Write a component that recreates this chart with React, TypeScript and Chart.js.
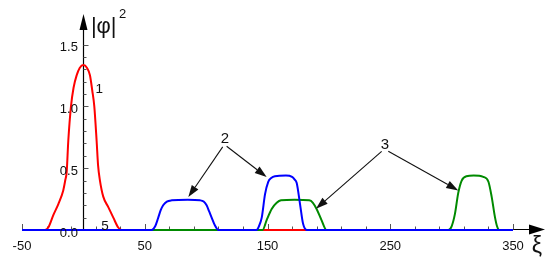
import { useEffect, useRef } from 'react';
import { Chart, registerables } from 'chart.js';

Chart.register(...registerables);

// ---- data ----
const redXi = [-50, -31.4, -28.6, -24.5, -20.4, -16.4, -14.8, -13.6, -12.3, -10.1, -8, -5.5, -3, 0, 3, 5.4, 7.2, 8.9, 10.8, 12, 13.5, 16.2, 20.3, 24.4, 28.4, 31.2, 350];
const redVal = [0, 0, 0.02, 0.12, 0.21, 0.32, 0.4, 0.47, 0.72, 1.0, 1.15, 1.25, 1.31, 1.334, 1.31, 1.25, 1.13, 1.0, 0.72, 0.52, 0.4, 0.27, 0.185, 0.1, 0.02, 0, 0];

const blueXi = [-50, 55.6, 58.5, 61, 63, 65, 68, 72, 85, 95, 98, 100.4, 102.5, 104.5, 107, 110, 141, 143, 145.3, 148, 150.6, 153, 156, 165, 170, 172, 173.8, 176.5, 179, 182, 350];
const blueVal = [0, 0, 0.03, 0.1, 0.16, 0.2, 0.23, 0.24, 0.245, 0.24, 0.23, 0.2, 0.15, 0.1, 0.04, 0, 0, 0.03, 0.1, 0.29, 0.39, 0.42, 0.435, 0.44, 0.43, 0.41, 0.38, 0.21, 0.05, 0, 0];

const greenXi = [-50, 146, 149.3, 153.4, 157.5, 161, 172, 184, 187, 190, 194, 198, 297.3, 300, 302.7, 305.4, 308.2, 312, 318, 325.8, 330, 332.6, 335.3, 337, 338.8, 350];
const greenVal = [0, 0, 0.08, 0.17, 0.22, 0.24, 0.245, 0.24, 0.22, 0.17, 0.08, 0, 0, 0.03, 0.13, 0.3, 0.4, 0.435, 0.44, 0.43, 0.39, 0.27, 0.104, 0.03, 0, 0];

const xMin = -50;
const xMax = 350;
const yMin = 0;
const yMax = 1.5;

const xMajorTicks = [-50, 50, 150, 250, 350];
const xTickLabels = ['-50', '50', '150', '250', '350'];
const xMinorTicks = [-30, -10, 10, 30, 70, 90, 110, 130, 170, 190, 210, 230, 270, 290, 310, 330];

const yMajorTicks = [0, 0.5, 1.0, 1.5];
const yTickLabels = ['0.0', '0.5', '1.0', '1.5'];
const yMinorTicks = [0.1, 0.2, 0.3, 0.4, 0.6, 0.7, 0.8, 0.9, 1.1, 1.2, 1.3, 1.4];

// annotation labels (data coordinates)
const noteText = ['1', '5', '2', '3'];
const noteXi = [13, 17.6, 115.4, 245.7];
const noteVal = [1.14, 0.028, 0.74, 0.685];
const noteSize = [13.5, 13.5, 15, 15];

// annotation arrows (data coordinates)
const arrowFromXi = [113.5, 116.7, 243, 248.4];
const arrowFromVal = [0.672, 0.677, 0.636, 0.636];
const arrowToXi = [85.5, 149.3, 189.5, 305.4];
const arrowToVal = [0.266, 0.428, 0.172, 0.32];

const FONT = '"Liberation Sans", Arial, Helvetica, sans-serif';

function toPoints(xs: number[], vs: number[]) {
  return xs.map((x, i) => ({ x, y: vs[i] }));
}

const decorations = {
  id: 'decorations',
  beforeDatasetsDraw(chart: any) {
    const { ctx } = chart;
    const xs = chart.scales.x;
    const ys = chart.scales.y;
    const x0 = Math.round(xs.getPixelForValue(0)) + 0.5;
    const y0 = Math.round(ys.getPixelForValue(0)) - 0.5;
    const xStart = xs.getPixelForValue(xMin);
    const xEnd = xs.getPixelForValue(xMax);
    const yTop = ys.getPixelForValue(yMax);
    ctx.save();
    ctx.strokeStyle = '#000';
    ctx.fillStyle = '#000';
    ctx.lineWidth = 1.2;
    // x axis
    ctx.beginPath();
    ctx.moveTo(xStart, y0);
    ctx.lineTo(xEnd + 20, y0);
    ctx.stroke();
    ctx.beginPath();
    ctx.moveTo(xEnd + 32, y0);
    ctx.lineTo(xEnd + 16, y0 - 5);
    ctx.lineTo(xEnd + 16, y0 + 5);
    ctx.closePath();
    ctx.fill();
    // y axis
    ctx.beginPath();
    ctx.moveTo(x0, y0);
    ctx.lineTo(x0, yTop - 18);
    ctx.stroke();
    ctx.beginPath();
    ctx.moveTo(x0, yTop - 30.5);
    ctx.lineTo(x0 - 4, yTop - 14.5);
    ctx.lineTo(x0 + 4, yTop - 14.5);
    ctx.closePath();
    ctx.fill();
    // x ticks (pointing up)
    ctx.strokeStyle = '#555';
    ctx.lineWidth = 1;
    ctx.beginPath();
    xMajorTicks.forEach((v) => {
      const px = Math.round(xs.getPixelForValue(v)) + 0.5;
      ctx.moveTo(px, y0);
      ctx.lineTo(px, y0 - 5.5);
    });
    xMinorTicks.forEach((v) => {
      const px = Math.round(xs.getPixelForValue(v)) + 0.5;
      ctx.moveTo(px, y0);
      ctx.lineTo(px, y0 - 3);
    });
    // y ticks (pointing right)
    yMajorTicks.forEach((v) => {
      const py = Math.round(ys.getPixelForValue(v)) + 0.5;
      ctx.moveTo(x0, py);
      ctx.lineTo(x0 + 5, py);
    });
    yMinorTicks.forEach((v) => {
      const py = Math.round(ys.getPixelForValue(v)) + 0.5;
      ctx.moveTo(x0, py);
      ctx.lineTo(x0 + 3, py);
    });
    ctx.stroke();
    ctx.restore();
  },
  afterDatasetsDraw(chart: any) {
    const { ctx } = chart;
    const xs = chart.scales.x;
    const ys = chart.scales.y;
    const x0 = xs.getPixelForValue(0);
    const y0 = ys.getPixelForValue(0);
    const xEnd = xs.getPixelForValue(xMax);
    const yTop = ys.getPixelForValue(yMax);
    ctx.save();
    ctx.fillStyle = '#111';
    // tick labels
    ctx.font = `13px ${FONT}`;
    ctx.textAlign = 'center';
    ctx.textBaseline = 'middle';
    xMajorTicks.forEach((v, i) => {
      ctx.fillText(xTickLabels[i], xs.getPixelForValue(v), y0 + 16);
    });
    ctx.textAlign = 'right';
    yMajorTicks.forEach((v, i) => {
      ctx.fillText(yTickLabels[i], x0 - 5.5, ys.getPixelForValue(v) + 3);
    });
    // axis titles
    ctx.textAlign = 'left';
    ctx.textBaseline = 'alphabetic';
    ctx.font = `22px ${FONT}`;
    ctx.fillText('|\u03C6|', x0 + 7.5, yTop - 12);
    ctx.font = `13px ${FONT}`;
    ctx.fillText('2', x0 + 35.5, yTop - 26.5);
    ctx.font = `23px ${FONT}`;
    ctx.textAlign = 'center';
    ctx.fillText('\u03BE', xEnd + 24, y0 + 23);
    // annotation labels
    ctx.textBaseline = 'middle';
    noteText.forEach((t, i) => {
      ctx.font = `${noteSize[i]}px ${FONT}`;
      ctx.fillText(t, xs.getPixelForValue(noteXi[i]), ys.getPixelForValue(noteVal[i]));
    });
    // annotation arrows
    ctx.strokeStyle = '#111';
    ctx.fillStyle = '#111';
    ctx.lineWidth = 1.1;
    arrowFromXi.forEach((fx, i) => {
      const ax = xs.getPixelForValue(fx);
      const ay = ys.getPixelForValue(arrowFromVal[i]);
      const bx = xs.getPixelForValue(arrowToXi[i]);
      const by = ys.getPixelForValue(arrowToVal[i]);
      const ang = Math.atan2(by - ay, bx - ax);
      const len = 12;
      const hw = 4;
      const cx = bx - len * Math.cos(ang);
      const cy = by - len * Math.sin(ang);
      ctx.beginPath();
      ctx.moveTo(ax, ay);
      ctx.lineTo(cx, cy);
      ctx.stroke();
      ctx.beginPath();
      ctx.moveTo(bx, by);
      ctx.lineTo(cx + hw * Math.sin(ang), cy - hw * Math.cos(ang));
      ctx.lineTo(cx - hw * Math.sin(ang), cy + hw * Math.cos(ang));
      ctx.closePath();
      ctx.fill();
    });
    ctx.restore();
  },
};

export default function App() {
  const ref = useRef<HTMLCanvasElement | null>(null);
  useEffect(() => {
    if (!ref.current) return;
    const common = {
      borderWidth: 2,
      pointRadius: 0,
      fill: false,
      cubicInterpolationMode: 'monotone' as const,
      clip: false as any,
    };
    const chart = new Chart(ref.current, {
      type: 'line',
      data: {
        datasets: [
          { ...common, label: 'blue', data: toPoints(blueXi, blueVal), borderColor: '#0000ff', order: 1 },
          { ...common, label: 'green', data: toPoints(greenXi, greenVal), borderColor: '#008a00', order: 2 },
          { ...common, label: 'red', data: toPoints(redXi, redVal), borderColor: '#ff0000', order: 3 },
        ],
      },
      options: {
        animation: false,
        responsive: false,
        layout: { padding: { left: 22, right: 43, top: 44.5, bottom: 43 } },
        plugins: { legend: { display: false }, tooltip: { enabled: false } },
        scales: {
          x: { type: 'linear', min: xMin, max: xMax, display: false },
          y: { type: 'linear', min: yMin, max: yMax, display: false },
        },
      },
      plugins: [decorations],
    });
    return () => chart.destroy();
  }, []);
  return (
    <div style={{ position: 'absolute', left: 0, top: 0, width: 556, height: 273, background: '#fff' }}>
      <canvas ref={ref} width={556} height={273} style={{ display: 'block' }} />
    </div>
  );
}
